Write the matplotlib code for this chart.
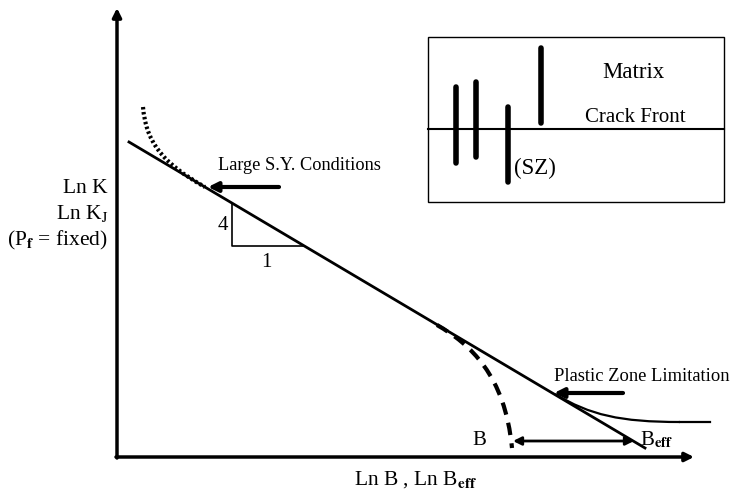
import matplotlib
matplotlib.use('Agg')
import matplotlib.pyplot as plt
from matplotlib.path import Path
from matplotlib.patches import PathPatch, Rectangle

plt.rcParams['font.family'] = ['Liberation Serif', 'DejaVu Serif']
plt.rcParams['mathtext.fontset'] = 'stix'

# Esquema en coordenadas de pixel (x a la derecha, y hacia abajo)
axis_origin = (117, 457)
axis_x_end = 694
axis_y_end = 8

main_line_x = [129, 645]
main_line_y = [142, 448]

# Curvas (puntos de control Bezier cubicos)
dotted_curve = [(143, 107), (146, 140), (160, 162), (205, 187)]
dashed_curve = [(437, 325), (470, 344), (505, 375), (512, 448)]
plastic_curve = [(555, 394), (590, 415), (620, 422), (680, 422)]
plastic_tail_x = [680, 710]
plastic_tail_y = [422, 422]

# Triangulo de pendiente
slope_tri_x = [232, 232, 303]
slope_tri_y = [203, 246, 246]

# Recuadro con esquema de la grieta
box = (428, 37, 296, 165)
crack_front_y = 129
bar_x = [456, 476, 508, 541]
bar_top = [87, 82, 107, 48]
bar_bottom = [163, 157, 182, 123]

fig = plt.figure(figsize=(7.32, 4.94), dpi=100)
ax = fig.add_axes([0, 0, 1, 1])
ax.set_xlim(0, 732)
ax.set_ylim(494, 0)
ax.axis('off')


def bezier(points, **kw):
    codes = [Path.MOVETO, Path.CURVE4, Path.CURVE4, Path.CURVE4]
    ax.add_patch(PathPatch(Path(points, codes), fill=False, **kw))


def arrow(start, end, style='-|>', lw=2.5, ms=14):
    ax.annotate('', xy=end, xytext=start,
                arrowprops=dict(arrowstyle=style, lw=lw, color='k',
                                mutation_scale=ms, shrinkA=0, shrinkB=0))


# Ejes
arrow((axis_origin[0], axis_origin[1] + 1), (axis_origin[0], axis_y_end), lw=2.5, ms=13)
arrow((axis_origin[0] - 1, axis_origin[1]), (axis_x_end, axis_origin[1]), lw=2.5, ms=13)

# Recta principal y curvas
ax.plot(main_line_x, main_line_y, color='k', lw=2)
bezier(dotted_curve, lw=3, linestyle=(0, (0.6, 0.6)), edgecolor='k')
bezier(dashed_curve, lw=3, linestyle=(0, (3, 2)), edgecolor='k')
bezier(plastic_curve, lw=1.6, edgecolor='k')
ax.plot(plastic_tail_x, plastic_tail_y, color='k', lw=1.6)
ax.plot(slope_tri_x, slope_tri_y, color='k', lw=1.2)

# Flechas de anotacion
arrow((279, 187), (208, 187), lw=3, ms=14)
arrow((623, 393), (554, 393), lw=3, ms=14)
arrow((513, 441), (634, 441), style='<|-|>', lw=2, ms=12)

# Textos
ax.text(299, 165, 'Large S.Y. Conditions', fontsize=13.2, ha='center', va='center')
ax.text(642, 376, 'Plastic Zone Limitation', fontsize=13.3, ha='center', va='center')
ax.text(223, 225, '4', fontsize=15, ha='center', va='center')
ax.text(266, 262, '1', fontsize=15, ha='center', va='center')
ax.text(479, 440, 'B', fontsize=15, ha='center', va='center')
ax.text(640, 440, r'B$_{\mathbf{eff}}$', fontsize=15, ha='left', va='center')
ax.text(108, 188, 'Ln K', fontsize=15.5, ha='right', va='center')
ax.text(108, 213, r'Ln K$_{\mathrm{J}}$', fontsize=15.5, ha='right', va='center')
ax.text(108, 240, r'(P$_{\mathbf{f}}$ = fixed)', fontsize=15.5, ha='right', va='center')
ax.text(416, 480, r'Ln B , Ln B$_{\mathbf{eff}}$', fontsize=15.5, ha='center', va='center')

# Recuadro
ax.add_patch(Rectangle(box[:2], box[2], box[3], fill=False, edgecolor='k', lw=1))
ax.plot([box[0], box[0] + box[2]], [crack_front_y, crack_front_y], color='k', lw=1.5)
for x, y0, y1 in zip(bar_x, bar_top, bar_bottom):
    ax.plot([x, x], [y0, y1], color='k', lw=4, solid_capstyle='round')
ax.text(633, 72, 'Matrix', fontsize=16.5, ha='center', va='center')
ax.text(635, 117, 'Crack Front', fontsize=15, ha='center', va='center')
ax.text(514, 168, '(SZ)', fontsize=16.5, ha='left', va='center')

fig.savefig('out.png', dpi=100)
